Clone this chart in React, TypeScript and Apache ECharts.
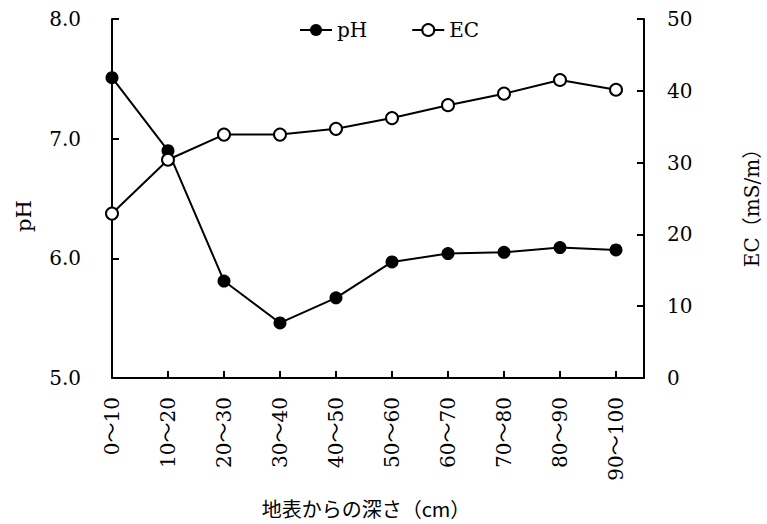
import React, { useEffect, useRef } from "react";
import * as echarts from "echarts";

const categories = ["0～10", "10～20", "20～30", "30～40", "40～50", "50～60", "60～70", "70～80", "80～90", "90～100"];
const phValues = [7.51, 6.9, 5.81, 5.46, 5.67, 5.97, 6.04, 6.05, 6.09, 6.07];
const ecValues = [22.9, 30.4, 33.9, 33.9, 34.7, 36.2, 38.0, 39.6, 41.5, 40.15];
const phTicks = { min: 5, max: 8, interval: 1 };
const ecTicks = { min: 0, max: 50, interval: 10 };

const SERIF = "'DejaVu Serif', 'Noto Sans CJK JP', serif";
const JP = "'Noto Sans CJK JP', 'DejaVu Serif', serif";

export default function App() {
  const ref = useRef<HTMLDivElement>(null);
  useEffect(() => {
    if (!ref.current) return;
    const chart = echarts.init(ref.current, null, { renderer: "svg" });
    const axisLine = { show: true, lineStyle: { color: "#000", width: 2 } };
    const axisTick = { show: true, inside: true, length: 7, lineStyle: { color: "#000", width: 2 } };
    chart.setOption({
      animation: false,
      backgroundColor: "#fff",
      grid: { left: 112, right: 123, top: 19, bottom: 146, containLabel: false },
      legend: {
        data: ["pH", "EC"],
        left: 294,
        top: 15,
        itemWidth: 32,
        itemHeight: 15,
        itemGap: 44,
        textStyle: { fontFamily: SERIF, fontSize: 20, color: "#000" },
      },
      xAxis: {
        type: "value",
        min: 0,
        max: categories.length - 0.5,
        interval: 1,
        axisLine,
        axisTick,
        splitLine: { show: false },
        axisLabel: {
          rotate: 90,
          margin: 19,
          fontFamily: SERIF,
          fontSize: 20,
          color: "#000",
          showMaxLabel: false,
          formatter: (v: number) => (Number.isInteger(v) && categories[v] !== undefined ? categories[v] : ""),
        },
      },
      yAxis: [
        {
          type: "value",
          position: "left",
          ...phTicks,
          axisLine,
          axisTick,
          splitLine: { show: false },
          axisLabel: {
            margin: 31,
            fontFamily: SERIF,
            fontSize: 20,
            color: "#000",
            formatter: (v: number) => v.toFixed(1),
          },
        },
        {
          type: "value",
          position: "right",
          ...ecTicks,
          axisLine,
          axisTick,
          splitLine: { show: false },
          axisLabel: { margin: 23, fontFamily: SERIF, fontSize: 20, color: "#000" },
        },
      ],
      graphic: [
        {
          type: "text",
          x: 24,
          y: 216,
          rotation: Math.PI / 2,
          style: { text: "pH", fontFamily: SERIF, fontSize: 21, fill: "#000", align: "center", verticalAlign: "middle" },
        },
        {
          type: "text",
          x: 752,
          y: 203,
          rotation: Math.PI / 2,
          style: { text: "EC（mS/m）", fontFamily: SERIF, fontSize: 20, fill: "#000", align: "center", verticalAlign: "middle" },
        },
        {
          type: "text",
          x: 366,
          y: 508,
          style: { text: "地表からの深さ（cm）", fontFamily: JP, fontSize: 20, fill: "#000", align: "center", verticalAlign: "middle" },
        },
      ],
      series: [
        {
          name: "pH",
          type: "line",
          yAxisIndex: 0,
          data: phValues.map((v, i) => [i, v]),
          symbol: "circle",
          symbolSize: 13,
          lineStyle: { color: "#000", width: 2 },
          itemStyle: { color: "#000", borderColor: "#000", borderWidth: 0 },
        },
        {
          name: "EC",
          type: "line",
          yAxisIndex: 1,
          data: ecValues.map((v, i) => [i, v]),
          symbol: "circle",
          symbolSize: 12,
          lineStyle: { color: "#000", width: 2 },
          itemStyle: { color: "#fff", borderColor: "#000", borderWidth: 2 },
        },
      ],
    });
    return () => chart.dispose();
  }, []);
  return <div ref={ref} style={{ width: 767, height: 524, position: "absolute", left: 0, top: 0 }} />;
}
